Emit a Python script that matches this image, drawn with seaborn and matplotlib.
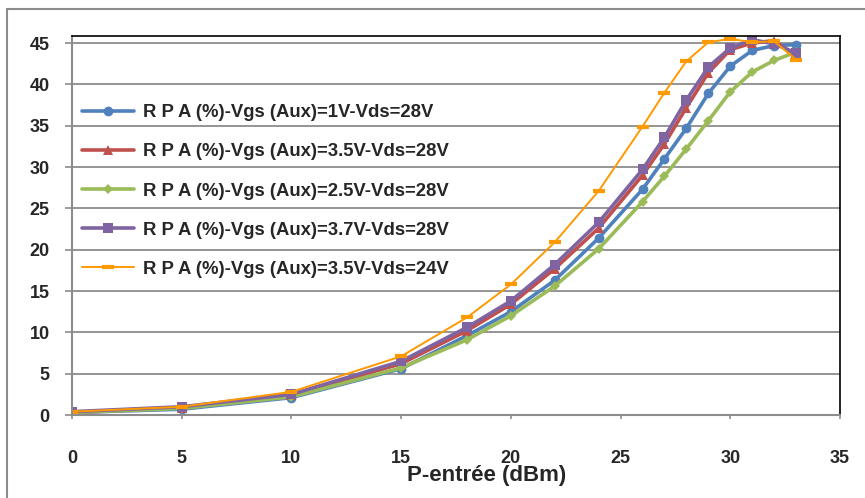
#!/usr/bin/env python3
# -*- coding: utf-8 -*-

"""
Rendement RPA en fonction de la puissance d'entrée.
"""

import matplotlib
matplotlib.use('Agg')
import matplotlib.pyplot as plt
from matplotlib.patches import Rectangle
import pandas as pd
import seaborn as sns

# Données
p_entree = [0, 5, 10, 15, 18, 20, 22, 24, 26, 27, 28, 29, 30, 31, 32, 33]

rpa_1v_28 = [0.3, 0.7, 2.1, 5.6, 9.6, 12.5, 16.3, 21.4, 27.3, 31.0, 34.7, 38.9, 42.2, 44.1, 44.7, 44.8]
rpa_35v_28 = [0.3, 0.9, 2.4, 6.2, 10.2, 13.4, 17.7, 22.6, 29.0, 32.8, 37.2, 41.4, 44.2, 45.0, 45.3, 43.4]
rpa_25v_28 = [0.3, 0.8, 2.2, 5.7, 9.1, 12.0, 15.6, 20.1, 25.8, 28.9, 32.2, 35.6, 39.1, 41.5, 42.9, 43.9]
rpa_37v_28 = [0.4, 1.0, 2.5, 6.5, 10.6, 13.8, 18.2, 23.3, 29.7, 33.6, 38.1, 42.1, 44.4, 45.4, 44.9, 43.8]
rpa_35v_24 = [0.4, 1.0, 2.8, 7.1, 11.8, 15.8, 20.9, 27.1, 34.9, 39.0, 42.8, 45.1, 45.5, 45.1, 45.2, 43.0]

labels = [
    'R P A (%)-Vgs (Aux)=1V-Vds=28V',
    'R P A (%)-Vgs (Aux)=3.5V-Vds=28V',
    'R P A (%)-Vgs (Aux)=2.5V-Vds=28V',
    'R P A (%)-Vgs (Aux)=3.7V-Vds=28V',
    'R P A (%)-Vgs (Aux)=3.5V-Vds=24V',
]
series = [rpa_1v_28, rpa_35v_28, rpa_25v_28, rpa_37v_28, rpa_35v_24]

# Style de chaque courbe (couleur, marqueur, taille, épaisseur)
styles = [
    dict(color='#4F81BD', marker='o', markersize=7, linewidth=2.6, mew=0),
    dict(color='#C0504D', marker='^', markersize=7.5, linewidth=2.6, mew=0),
    dict(color='#9BBB59', marker='D', markersize=5, linewidth=2.6, mew=0),
    dict(color='#8064A2', marker='s', markersize=7.5, linewidth=2.6, mew=0),
    dict(color='#FF9900', marker='_', markersize=8, linewidth=1.4, mew=3),
]

sns.set_style('white')
plt.rcParams['font.family'] = ['Liberation Sans', 'DejaVu Sans']
plt.rcParams['font.weight'] = 'bold'

fig = plt.figure(figsize=(8.65, 4.98), dpi=100)
ax = fig.add_axes([72 / 865, 1 - 415 / 498, 768 / 865, 379 / 498])

for lab, vals, st in zip(labels, series, styles):
    df = pd.DataFrame({'x': p_entree, 'y': vals})
    sns.lineplot(data=df, x='x', y='y', ax=ax, label=lab,
                 markeredgewidth=st['mew'], color=st['color'],
                 marker=st['marker'], markersize=st['markersize'],
                 linewidth=st['linewidth'], markeredgecolor=st['color'])

ax.set_xlim(0, 35)
ax.set_ylim(0, 45.85)
ax.set_xticks(range(0, 36, 5))
ax.set_yticks(range(0, 46, 5))
ax.yaxis.grid(True, color='#8c8c8c', linewidth=1.3)
ax.xaxis.grid(False)
ax.set_axisbelow(True)

for side in ['left', 'bottom']:
    ax.spines[side].set_color('#8c8c8c')
    ax.spines[side].set_linewidth(1.5)
for side in ['top', 'right']:
    ax.spines[side].set_color('black')
    ax.spines[side].set_linewidth(1.2)

ax.tick_params(axis='y', which='major', left=True, length=5, width=1.2,
               color='#8c8c8c', pad=11, labelsize=13)
ax.tick_params(axis='x', which='major', bottom=True, length=3, width=1.2,
               color='#8c8c8c', pad=22, labelsize=13)
for t in ax.get_xticklabels() + ax.get_yticklabels():
    t.set_fontweight('bold')

ax.set_ylabel('')
ax.set_xlabel('P-entrée (dBm)', fontsize=16, fontweight='bold')
ax.xaxis.set_label_coords(0.54, -0.132)

leg = ax.legend(loc='upper left', bbox_to_anchor=(73 / 865, 1 - 95 / 498),
                bbox_transform=fig.transFigure, frameon=False,
                prop={'weight': 'bold', 'size': 13.3}, borderpad=0,
                labelspacing=1.2, handlelength=2.8, handletextpad=0.5)

# Cadre extérieur du graphique
fig.patches.append(Rectangle((7 / 865, -0.1), 1.2, 1.1 - 9 / 498,
                             transform=fig.transFigure, fill=False,
                             edgecolor='#8c8c8c', linewidth=1.5))

fig.savefig('out.png', dpi=100)
